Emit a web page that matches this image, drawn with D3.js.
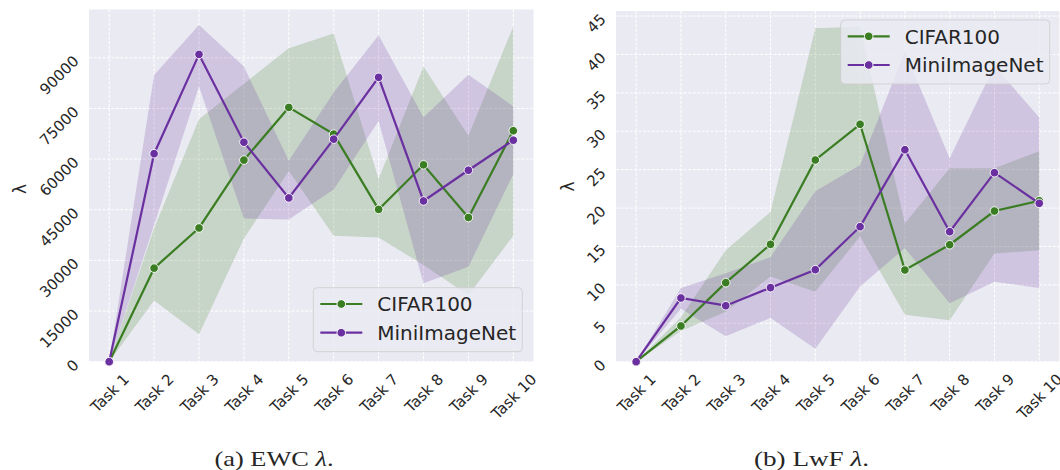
<!DOCTYPE html>
<html>
<head>
<meta charset="utf-8">
<script src="https://cdn.jsdelivr.net/npm/d3@7"></script>
<style>
  body { margin: 0; background: #fff; }
  svg { display: block; }
  text { font-family: "DejaVu Sans", sans-serif; fill: #262626; }
</style>
</head>
<body>
<svg id="chart" width="1060" height="470"></svg>
<script>
// Categories
const tasks = ['Task 1', 'Task 2', 'Task 3', 'Task 4', 'Task 5', 'Task 6', 'Task 7', 'Task 8', 'Task 9', 'Task 10'];
const seriesNames = ['CIFAR100', 'MiniImageNet'];

// (a) EWC lambda: mean and band bounds
const cifarEwc     = [0, 27700, 39600, 59700, 75300, 67400, 45100, 58300, 42700, 68400];
const cifarEwcLow  = [0, 18100,  8100, 36500, 56500, 37300, 36800, 28600, 19700, 37300];
const cifarEwcHigh = [0, 39500, 71800, 82300, 92800, 97200, 54100, 87400, 66900, 99300];
const miniEwc      = [0, 61600, 91000, 65000, 48500, 65900, 84200, 47600, 56700, 65600];
const miniEwcLow   = [0, 40500, 81500, 42400, 42100, 51000, 71300, 23200, 28100, 55600];
const miniEwcHigh  = [0, 84900, 99700, 87400, 59500, 79700, 96700, 72400, 85000, 75600];
const ewcTicks = [0, 15000, 30000, 45000, 60000, 75000, 90000];

// (b) LwF lambda
const cifarLwf     = [0, 4.65, 10.29, 15.28, 26.26, 30.91, 11.94, 15.23, 19.62, 20.96];
const cifarLwfLow  = [0, 4.0, 6.5, 11.1, 9.1, 16.3, 6.1, 5.4, 14.1, 14.5];
const cifarLwfHigh = [0, 5.8, 14.5, 19.5, 43.4, 43.6, 18.0, 25.2, 25.2, 27.4];
const miniLwf      = [0, 8.29, 7.29, 9.64, 11.98, 17.58, 27.6, 16.93, 24.61, 20.62];
const miniLwfLow   = [0, 6.9, 3.3, 5.7, 1.7, 9.8, 14.8, 7.6, 10.4, 9.6];
const miniLwfHigh  = [0, 9.6, 11.5, 13.6, 22.2, 25.6, 40.4, 26.5, 38.5, 31.8];
const lwfTicks = [0, 5, 10, 15, 20, 25, 30, 35, 40, 45];

const GREEN = '#3a7d22';
const PURPLE = '#6a30a0';
const svg = d3.select('#chart');

function drawPanel(cfg) {
  const x = d3.scalePoint().domain(tasks).range([cfg.left, cfg.right]).padding(0.45);
  const y = d3.scaleLinear().domain([0, cfg.yMax]).range([cfg.bottom, cfg.top]);
  const g = svg.append('g');

  // background
  g.append('rect')
    .attr('x', cfg.left).attr('y', cfg.top)
    .attr('width', cfg.right - cfg.left).attr('height', cfg.bottom - cfg.top)
    .attr('fill', '#eaeaf2');

  // grid
  g.append('g').selectAll('line').data(cfg.ticks).join('line')
    .attr('x1', cfg.left).attr('x2', cfg.right)
    .attr('y1', d => y(d)).attr('y2', d => y(d))
    .attr('stroke', '#fff').attr('stroke-width', 1).attr('stroke-dasharray', '3,1.5');
  g.append('g').selectAll('line').data(tasks).join('line')
    .attr('x1', d => x(d)).attr('x2', d => x(d))
    .attr('y1', cfg.top).attr('y2', cfg.bottom)
    .attr('stroke', '#fff').attr('stroke-width', 1).attr('stroke-dasharray', '3,1.5');

  // bands
  cfg.series.forEach(s => {
    const area = d3.area()
      .x((d, i) => x(tasks[i]))
      .y0((d, i) => y(s.low[i]))
      .y1((d, i) => y(s.high[i]));
    g.append('path').datum(s.values).attr('d', area)
      .attr('fill', s.color).attr('fill-opacity', 0.2);
  });

  // lines + markers
  cfg.series.forEach(s => {
    const line = d3.line().x((d, i) => x(tasks[i])).y(d => y(d));
    g.append('path').datum(s.values).attr('d', line)
      .attr('fill', 'none').attr('stroke', s.color).attr('stroke-width', 2.2);
    g.append('g').selectAll('circle').data(s.values).join('circle')
      .attr('cx', (d, i) => x(tasks[i])).attr('cy', d => y(d)).attr('r', 4.3)
      .attr('fill', s.color).attr('stroke', '#fff').attr('stroke-width', 0.9);
  });

  // y axis
  const ya = g.append('g').attr('transform', 'translate(' + cfg.left + ',0)')
    .call(d3.axisLeft(y).tickValues(cfg.ticks).tickSize(0).tickPadding(13).tickFormat(d3.format('d')));
  ya.select('.domain').remove();
  ya.selectAll('text')
    .attr('font-size', 15).attr('fill', '#262626').attr('dy', '0.35em')
    .attr('transform', 'rotate(-45,-13,0)');

  // x axis
  const xa = g.append('g').attr('transform', 'translate(0,' + cfg.bottom + ')')
    .call(d3.axisBottom(x).tickSize(0).tickPadding(0));
  xa.select('.domain').remove();
  xa.selectAll('text')
    .attr('font-size', 15).attr('fill', '#262626')
    .attr('y', null).attr('dy', '0.35em')
    .attr('transform', function() {
      const w = this.getComputedTextLength();
      const half = (w + 0.73 * 15) / (2 * Math.SQRT2);
      return 'translate(0,' + (11 + half) + ') rotate(-45)';
    });

  // y label
  g.append('text')
    .attr('transform', 'translate(' + cfg.labelX + ',' + cfg.labelY + ') rotate(-90)')
    .attr('text-anchor', 'middle').attr('font-size', 17)
    .text('λ');

  // legend
  const lg = g.append('g').attr('transform', 'translate(' + cfg.legendX + ',' + cfg.legendY + ')');
  lg.append('rect').attr('width', 209).attr('height', 64).attr('rx', 4)
    .attr('fill', '#eaeaf2').attr('fill-opacity', 0.8)
    .attr('stroke', '#cccccc').attr('stroke-opacity', 0.8);
  cfg.series.forEach((s, i) => {
    const row = lg.append('g').attr('transform', 'translate(0,' + (16.3 + i * 28.7) + ')');
    row.append('line').attr('x1', 7).attr('x2', 49).attr('stroke', s.color).attr('stroke-width', 2.2);
    row.append('circle').attr('cx', 28).attr('r', 4.3)
      .attr('fill', s.color).attr('stroke', '#fff').attr('stroke-width', 0.9);
    row.append('text').attr('x', 64).attr('dy', '0.36em').attr('font-size', 20).text(s.name);
  });

  // caption
  const cap = svg.append('text')
    .attr('x', cfg.capX).attr('y', 466)
    .attr('text-anchor', 'middle')
    .attr('textLength', cfg.capW).attr('lengthAdjust', 'spacingAndGlyphs')
    .style('font-family', '"Liberation Serif", "Times New Roman", serif')
    .attr('font-size', 21.5).attr('fill', '#000');
  cap.append('tspan').text(cfg.caption + ' ');
  cap.append('tspan').style('font-style', 'italic').text('λ');
  cap.append('tspan').text('.');
}

drawPanel({
  left: 89, right: 533.5, top: 9.5, bottom: 361.7, yMax: 104300, ticks: ewcTicks,
  labelX: 25.5, labelY: 189, legendX: 313.3, legendY: 287.7,
  capX: 274, capW: 119, caption: '(a) EWC',
  series: [
    { name: seriesNames[0], color: GREEN, values: cifarEwc, low: cifarEwcLow, high: cifarEwcHigh },
    { name: seriesNames[1], color: PURPLE, values: miniEwc, low: miniEwcLow, high: miniEwcHigh }
  ]
});

drawPanel({
  left: 616, right: 1059.4, top: 11, bottom: 361.7, yMax: 45.66, ticks: lwfTicks,
  labelX: 574, labelY: 186.5, legendX: 840.7, legendY: 20,
  capX: 811.5, capW: 115, caption: '(b) LwF',
  series: [
    { name: seriesNames[0], color: GREEN, values: cifarLwf, low: cifarLwfLow, high: cifarLwfHigh },
    { name: seriesNames[1], color: PURPLE, values: miniLwf, low: miniLwfLow, high: miniLwfHigh }
  ]
});
</script>
</body>
</html>
